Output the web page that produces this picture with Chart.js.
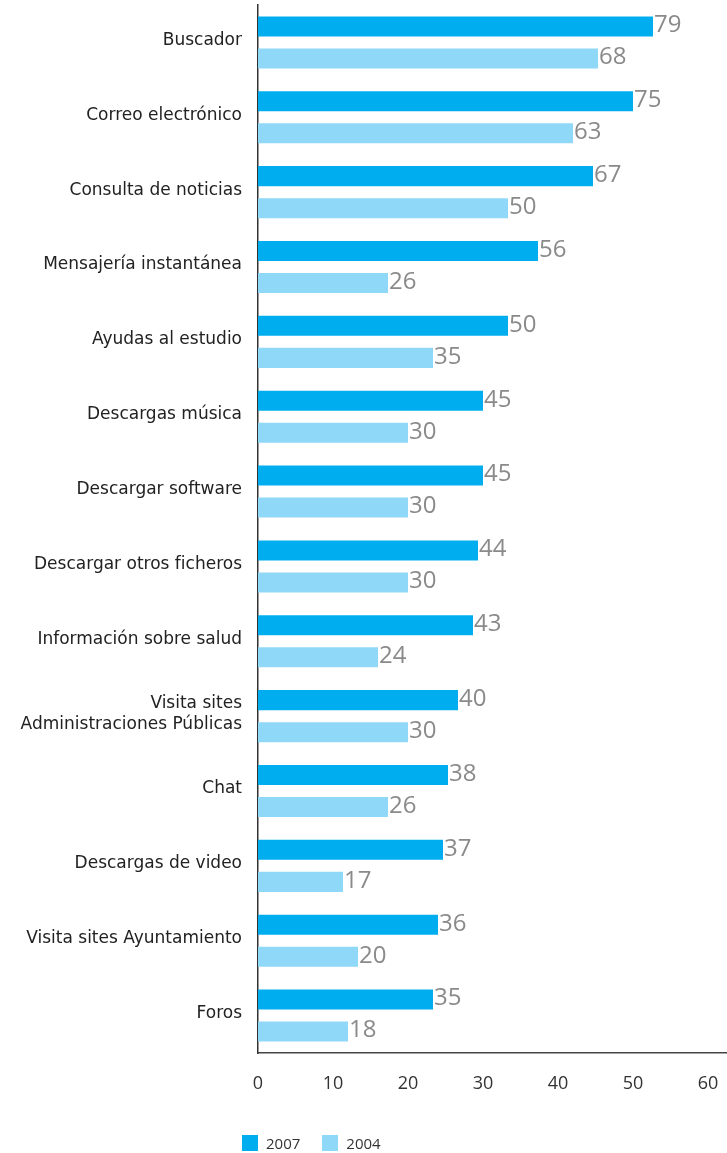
<!DOCTYPE html>
<html lang="es">
<head>
  <meta charset="UTF-8" />
  <title>Usos de Internet 2007 / 2004</title>
  <script src="https://cdn.jsdelivr.net/npm/chart.js"></script>
  <style>
    body { margin: 0; background: #fff; font-family: "Open Sans", sans-serif; }
    #wrap { position: relative; width: 727px; height: 1153px; }
    #legend { position: absolute; left: 242px; top: 1133px; display: flex; font-size: 15px; color: #333; }
    #legend span.item { display: flex; align-items: center; margin-right: 22px; }
    #legend span.box { width: 16px; height: 16px; margin-right: 8px; display: inline-block; }
  </style>
</head>
<body>
<div id="wrap">
  <canvas id="chart" width="727" height="1153"></canvas>
  <div id="legend"></div>
</div>
<script>
const categories = [
  "Buscador",
  "Correo electrónico",
  "Consulta de noticias",
  "Mensajería instantánea",
  "Ayudas al estudio",
  "Descargas música",
  "Descargar software",
  "Descargar otros ficheros",
  "Información sobre salud",
  ["Visita sites", "Administraciones Públicas"],
  "Chat",
  "Descargas de video",
  "Visita sites Ayuntamiento",
  "Foros"
];
const values2007 = [79, 75, 67, 56, 50, 45, 45, 44, 43, 40, 38, 37, 36, 35];
const values2004 = [68, 63, 50, 26, 35, 30, 30, 30, 24, 30, 26, 17, 20, 18];
// axis is printed in its own units: each printed step of 10 spans 15 of the bar values
const axisLabels = ["0", "10", "20", "30", "40", "50", "60"];
const axisUnit = 1.5;

const colors = { y2007: "#00aeef", y2004: "#8fd8f7" };

// numbers at the end of each bar
const valueLabels = {
  id: "valueLabels",
  afterDatasetsDraw(chart) {
    const ctx = chart.ctx;
    ctx.save();
    ctx.font = "24px 'Open Sans', sans-serif";
    ctx.fillStyle = "#8a8a8a";
    ctx.textAlign = "left";
    ctx.textBaseline = "middle";
    chart.data.datasets.forEach((ds, i) => {
      chart.getDatasetMeta(i).data.forEach((bar, j) => {
        ctx.fillText(String(ds.data[j]), bar.x + 1, bar.y - 1);
      });
    });
    ctx.restore();
  }
};

function noPadding(scale) {
  scale.paddingTop = 0;
  scale.paddingBottom = 0;
  scale.paddingLeft = 0;
  scale.paddingRight = 0;
}

const chart = new Chart(document.getElementById("chart").getContext("2d"), {
  type: "bar",
  data: {
    labels: categories,
    datasets: [
      { label: "2007", data: values2007, backgroundColor: colors.y2007 },
      { label: "2004", data: values2004, backgroundColor: colors.y2004 }
    ]
  },
  options: {
    indexAxis: "y",
    responsive: false,
    animation: false,
    events: [],
    layout: { padding: { top: 5, right: 0, bottom: 0, left: 0 } },
    datasets: { bar: { categoryPercentage: 0.856, barPercentage: 0.625 } },
    plugins: { legend: { display: false }, tooltip: { enabled: false } },
    scales: {
      x: {
        min: 0,
        max: 93.8,
        grid: { display: false, drawTicks: false },
        border: { color: "#444", width: 1.5 },
        ticks: {
          padding: 20,
          color: "#333",
          font: { family: "Open Sans", size: 18 },
          callback: (v, i) => axisLabels[i]
        },
        afterBuildTicks(scale) {
          scale.ticks = axisLabels.map(l => ({ value: Number(l) * axisUnit }));
        },
        afterFit(scale) { scale.height = 100; noPadding(scale); }
      },
      y: {
        grid: { display: false, drawTicks: false },
        border: { color: "#333", width: 1.5 },
        ticks: {
          padding: 16,
          labelOffset: -2,
          color: "#222",
          font: { family: "DejaVu Sans", size: 17, lineHeight: 1.25 }
        },
        afterFit(scale) { scale.width = 258; noPadding(scale); }
      }
    }
  },
  plugins: [valueLabels]
});

// legend below the axis
const legend = document.getElementById("legend");
chart.data.datasets.forEach(ds => {
  const item = document.createElement("span");
  item.className = "item";
  item.innerHTML = `<span class="box" style="background:${ds.backgroundColor}"></span>${ds.label}`;
  legend.appendChild(item);
});
</script>
</body>
</html>
